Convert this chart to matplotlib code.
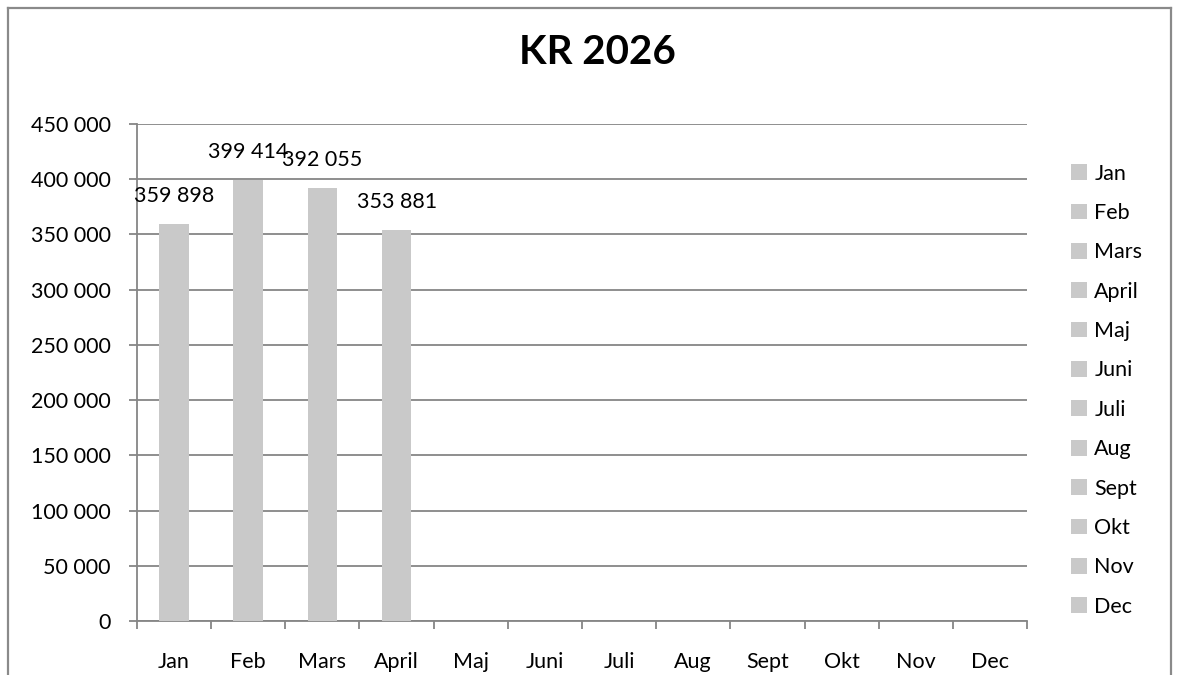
import matplotlib
matplotlib.use("Agg")
import matplotlib.pyplot as plt
from matplotlib.patches import Patch
from matplotlib.lines import Line2D
from matplotlib.ticker import FuncFormatter, MultipleLocator

plt.rcParams['font.family'] = ['Lato', 'DejaVu Sans']

title = "KR 2026"
months = ["Jan", "Feb", "Mars", "April", "Maj", "Juni", "Juli", "Aug", "Sept", "Okt", "Nov", "Dec"]
values = [359898, 399414, 392055, 353881]
value_labels = ["359 898", "399 414", "392 055", "353 881"]

bar_color = "#c9c9c9"
grid_color = "#868686"
fs = 15.5

fig = plt.figure(figsize=(11.79, 6.75), dpi=100)
W, H = 1179, 675

# outer border
def fx(px): return px / W
def fy(py): return 1 - py / H
for xs, ys in [((8, 8), (8, 675)), ((8, 1171), (8, 8)), ((1171, 1171), (8, 675))]:
    fig.add_artist(Line2D([fx(x) for x in xs], [fy(y) for y in ys], color="#8a8a8a", lw=1.6))

ax = fig.add_axes([fx(137), fy(621), fx(1027) - fx(137), fy(124) - fy(621)])
x = list(range(len(values)))
ax.bar(x, values, width=0.4, color=bar_color, zorder=3)
for xi, v, lab in zip(x, values, value_labels):
    ax.annotate(lab, (xi, v), xytext=(0, 20), textcoords="offset points",
                ha="center", va="center", fontsize=fs, zorder=4)

ax.set_xlim(-0.5, len(months) - 0.5)
ax.set_ylim(0, 450000)
ax.yaxis.set_major_locator(MultipleLocator(50000))
ax.yaxis.set_major_formatter(FuncFormatter(lambda v, p: f"{int(v):,}".replace(",", " ")))
ax.grid(axis="y", color=grid_color, lw=1.3, zorder=0)
ax.set_xticks(range(len(months)))
ax.set_xticklabels(months)
ax.set_xticks([i - 0.5 for i in range(len(months) + 1)], minor=True)
ax.tick_params(axis="x", which="major", length=0, pad=22, labelsize=fs)
ax.tick_params(axis="x", which="minor", length=6, width=1.3, color=grid_color)
ax.tick_params(axis="y", length=6, width=1.3, color=grid_color, labelsize=fs, pad=13)
for s in ["top", "right"]:
    ax.spines[s].set_visible(False)
for s in ["left", "bottom"]:
    ax.spines[s].set_color(grid_color)
    ax.spines[s].set_linewidth(1.3)

fig.text(fx(597), fy(52), title, ha="center", va="center", fontsize=29, fontweight="bold")

handles = [Patch(facecolor=bar_color, edgecolor="none") for _ in months]
fig.legend(handles, months, loc="upper left", bbox_to_anchor=(fx(1062), fy(155)),
           frameon=False, fontsize=fs, handlelength=0.75, handleheight=0.75,
           handletextpad=0.35, labelspacing=0.9, borderaxespad=0)

fig.savefig("out.png", dpi=100)
